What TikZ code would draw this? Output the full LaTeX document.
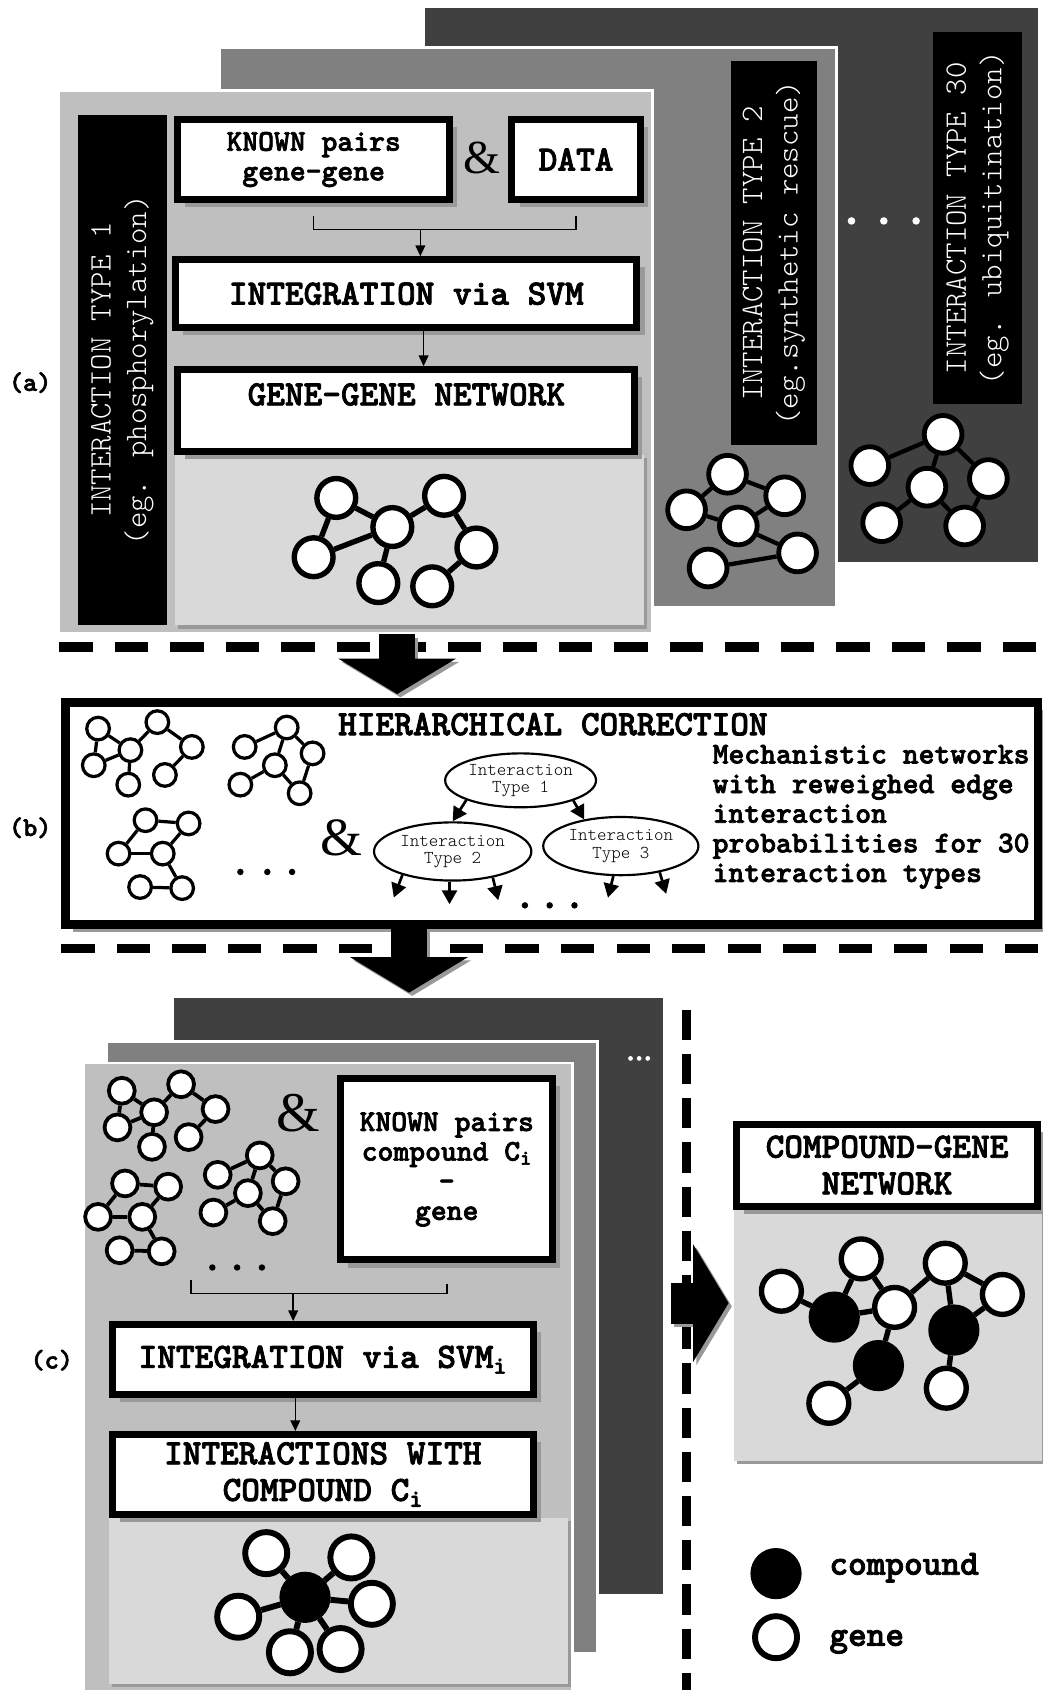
\documentclass[tikz,border=0pt]{standalone}
\usepackage{fontspec}
\newfontfamily\ampfont{Liberation Serif}
\newfontfamily\courbold{lmmonolt10-bold}[Extension=.otf,FakeBold=2.2]
\newfontfamily\courlight{lmmonolt10-regular}[Extension=.otf]
\usetikzlibrary{arrows.meta,positioning,shapes.geometric,shadows}
\definecolor{laydark}{HTML}{404040}
\definecolor{laymid}{HTML}{808080}
\definecolor{laylight}{HTML}{BFBFBF}
\definecolor{panelgray}{HTML}{D9D9D9}
\definecolor{shadegray}{HTML}{999999}
\newcommand{\fBig}{\courbold\fontsize{33}{34}\selectfont}
\newcommand{\fMed}{\courbold\fontsize{28}{27.5}\selectfont}
\newcommand{\fLab}{\courlight\fontsize{29}{33}\selectfont}
\newcommand{\fEll}{\courlight\fontsize{16.8}{16}\selectfont}
\newcommand{\fTag}{\courbold\fontsize{25}{26}\selectfont}
\tikzset{
  layer/.style={anchor=north west,inner sep=0pt,draw=white,line width=2.5pt},
  vlab/.style={fill=black,text=white,rotate=90,align=center,inner sep=0pt,font=\fLab},
  box/.style={draw=black,fill=white,line width=6.5pt,inner sep=0pt,align=center,
    drop shadow={shadow xshift=7pt,shadow yshift=-7pt,fill=shadegray,opacity=1}},
  panel/.style={anchor=north west,inner sep=0pt,fill=panelgray,
    drop shadow={shadow xshift=3pt,shadow yshift=-3pt,fill=shadegray,opacity=1}},
  amp/.style={font=\ampfont\fontsize{#1}{#1}\selectfont,inner sep=0pt},
  ell/.style={ellipse,draw,line width=2pt,fill=white,inner sep=0pt,align=center,font=\fEll},
  gene/.style={circle,draw=black,fill=white,inner sep=0pt},
  gA/.style={gene,line width=5pt,minimum size=36pt},
  gB/.style={gene,line width=4.5pt,minimum size=35pt},
  gS/.style={gene,minimum size=21pt},
  gC/.style={gene,minimum size=24pt},
  gL/.style={gene,line width=5.5pt,minimum size=39pt},
  cpd/.style={gL,fill=black,minimum size=42pt},
  brk/.style={line width=1.5pt},
  arr/.style={-{Triangle[length=10pt,width=9pt]},line width=1.5pt},
  tarr/.style={-{Triangle[length=13pt,width=14pt]},line width=2.5pt},
  bigarr/.style={-{Triangle[length=33pt,width=108pt]},line width=33pt},
  seph/.style={line width=9pt,dash pattern=on 31pt off 20.5pt},
  sepv/.style={line width=8pt,dash pattern=on 28pt off 13pt},
}
% small networks, drawn at the origin of a shifted scope
\newcommand{\netP}[2]{%
  \foreach \k/\x/\y in {1/0/0,2/55/-6,3/30/20,4/-4/34,5/87/17,6/28/52,7/62/43}
    \node[#2] (#1\k) at (\x,\y) {};
  \foreach \i/\j in {1/3,1/4,4/3,3/2,2/5,5/7,3/6} \draw (#1\i) -- (#1\j);}
\newcommand{\netQ}[2]{%
  \foreach \k/\x/\y in {1/0/0,2/39/-18,3/63/6,4/28/17,5/-4/35,6/51/43}
    \node[#2] (#1\k) at (\x,\y) {};
  \foreach \i/\j in {1/2,2/4,2/3,3/6,4/6,4/5} \draw (#1\i) -- (#1\j);}
\newcommand{\netS}[2]{%
  \foreach \k/\x/\y in {1/0/0,2/40/3,3/-25/31,4/16/31,5/-5/62,6/34/63}
    \node[#2] (#1\k) at (\x,\y) {};
  \foreach \i/\j in {1/2,1/3,3/4,2/4,4/6,5/6} \draw (#1\i) -- (#1\j);}

\begin{document}
\begin{tikzpicture}[x=1pt,y=-1pt]
  \useasboundingbox (0,0) rectangle (967,1568);
  % (a) one layer per interaction type
  \node[layer,draw=none,fill=laydark,minimum width=569pt,minimum height=514pt] (l30) at (393,6) {};
  \node[layer,fill=laymid,minimum width=572pt,minimum height=519pt] (l2) at (203,43) {};
  \node[layer,fill=laylight,minimum width=551pt,minimum height=503pt] (l1) at (53,83) {};
  \node[vlab,minimum width=473pt,minimum height=83pt] (lab1) at (113.5,343.5) {INTERACTION TYPE 1\\(eg. phosphorylation)};
  \node[vlab,minimum width=356pt,minimum height=80pt] (lab2) at (718,235) {INTERACTION TYPE 2\\(eg.synthetic rescue)};
  \node[vlab,minimum width=345pt,minimum height=82pt] (lab30) at (907,202.5) {INTERACTION TYPE 30\\(eg. ubiquitination)};
  \foreach \x in {790,820,850} \fill[white] (\x,205) circle (3.5pt);
  \foreach \k/\x/\y in {1/675/440,2/728/460,3/637/473,4/685/488,5/740/513,6/657/527}
    \node[gB] (gb\k) at (\x,\y) {};
  \foreach \i/\j in {1/2,1/3,3/4,4/2,4/5,5/6} \draw[line width=4pt] (gb\i) -- (gb\j);
  \foreach \k/\x/\y in {1/875/403,2/807/432,3/860/452,4/917/444,5/818/485,6/895/488}
    \node[gB] (gt\k) at (\x,\y) {};
  \foreach \i/\j in {2/1,1/3,1/4,3/5,3/6,4/6} \draw[line width=4pt] (gt\i) -- (gt\j);
  % type 1 workflow
  \node[box,font=\fMed,minimum width=252pt,minimum height=74pt] (kg) at (291,148) {KNOWN pairs\\gene-gene};
  \node[box,font=\fBig,minimum width=119pt,minimum height=74pt] (data) at (534.5,148) {DATA};
  \node[amp=44] (andA) at (447,147) {\&};
  \node[box,font=\fBig,minimum width=428pt,minimum height=63pt] (svm) at (377,272.5) {INTEGRATION via SVM};
  \coordinate (bja) at (390,213);
  \draw[brk] ([yshift=-12pt]kg.south) |- (bja) -| ([yshift=-12pt]data.south);
  \draw[arr] (bja) -- (bja |- svm.north);
  \node[panel,minimum width=435pt,minimum height=158pt] (ggp) at (162,422) {};
  \node[box,minimum width=424pt,minimum height=76pt] (gg) at (377,381) {};
  \node[font=\fBig] (ggt) at (377,366) {GENE-GENE NETWORK};
  \coordinate (bjb) at (393,0);
  \draw[arr] (svm.south -| bjb) -- (gg.north -| bjb);
  \foreach \k/\x/\y in {1/312/462,2/412/460,3/364/489,4/291/517,5/442/508,6/351/541,7/401/544}
    \node[gA] (ga\k) at (\x,\y) {};
  \foreach \i/\j in {1/3,1/4,4/3,3/2,3/6,2/5,5/7} \draw[line width=5pt] (ga\i) -- (ga\j);
  \draw[seph] (55,600) -- (967,600);
  % (b) hierarchical correction
  \node[box,line width=8pt,minimum width=902pt,minimum height=206pt] (hbox) at (512,755) {};
  \coordinate (ax1) at (368.5,0);
  \draw[bigarr,shadegray,transform canvas={shift={(3pt,-3pt)}}] (l1.south -| ax1) -- ([yshift=4pt]hbox.north -| ax1);
  \draw[bigarr] (l1.south -| ax1) -- ([yshift=4pt]hbox.north -| ax1);
  \node[font=\fBig] (htit) at (513,672) {HIERARCHICAL CORRECTION};
  \node[font=\fMed,align=left,anchor=north west,inner sep=0pt] (hdesc) at (661,691)
    {Mechanistic networks\\with reweighed edge\\interaction\\probabilities for 30\\interaction types};
  \begin{scope}[shift={(91,676)},line width=3pt] \netP{bp}{gS} \end{scope}
  \begin{scope}[shift={(227,693)},line width=3pt] \netQ{bq}{gS} \end{scope}
  \begin{scope}[shift={(135,761)},line width=3pt] \netS{bs}{gS} \end{scope}
  \foreach \x in {223,248,271} \fill (\x,809) circle (3pt);
  \node[amp=50] (andB) at (317,777) {\&};
  \node[ell,minimum width=140pt,minimum height=50pt] (e1) at (483,724) {Interaction\\Type 1};
  \node[ell,minimum width=146pt,minimum height=54pt] (e2) at (420,790) {Interaction\\Type 2};
  \node[ell,minimum width=144pt,minimum height=54pt] (e3) at (576,785) {Interaction\\Type 3};
  \draw[tarr] (e1.-160) -- (e2.north);
  \draw[tarr] (e1.-21) -- (e3.144);
  \foreach \a/\dx in {-155/-8,-96/0,-33/5} \draw[tarr] (e2.\a) -- ++(\dx,21);
  \foreach \a/\dx in {-104/-5,-34/6} \draw[tarr] (e3.\a) -- ++(\dx,20);
  \foreach \x in {487,510,533} \fill (\x,840) circle (3pt);
  \draw[seph] (57,880) -- (967,880);
  % (c) one layer per compound
  \node[layer,draw=none,fill=laydark,minimum width=454pt,minimum height=553pt] (c3) at (160,925) {};
  \node[layer,fill=laymid,minimum width=455pt,minimum height=568pt] (c2) at (98,965) {};
  \node[layer,fill=laylight,minimum width=454pt,minimum height=600pt] (c1) at (76,985) {};
  \coordinate (ax2) at (379.5,0);
  \draw[bigarr,shadegray,transform canvas={shift={(3pt,-3pt)}}] (hbox.south -| ax2) -- ([yshift=4pt]c3.north -| ax2);
  \draw[bigarr] (hbox.south -| ax2) -- ([yshift=4pt]c3.north -| ax2);
  \foreach \x in {585,593,601} \fill[white] (\x,982) circle (2.2pt);
  \begin{scope}[shift={(113,1012)},line width=3.5pt] \netP{cp}{gC} \end{scope}
  \begin{scope}[shift={(202,1090)},line width=3.5pt] \netQ{cq}{gC} \end{scope}
  \begin{scope}[shift={(116,1098)},line width=3.5pt] \netS{cs}{gC} \end{scope}
  \foreach \x in {197,220,243} \fill (\x,1176) circle (3pt);
  \node[amp=52] (andC) at (277,1033) {\&};
  \node[box,font=\fMed,minimum width=197pt,minimum height=168pt] (kc) at (414.5,1085)
    {KNOWN pairs\\compound C\textsubscript{i}\\-\\gene};
  \node[box,font=\fBig,minimum width=391pt,minimum height=65pt] (svmi) at (299.5,1261.5) {INTEGRATION via SVM\textsubscript{i}};
  \coordinate (bjl) at (177,1188);
  \coordinate (bjc) at (272,1200);
  \draw[brk] (bjl) |- (bjc) -| ([yshift=-19pt]kc.south);
  \draw[arr] (bjc) -- (bjc |- svmi.north);
  \node[panel,minimum width=426pt,minimum height=154pt] (iwp) at (101,1408) {};
  \node[box,font=\fBig,minimum width=391pt,minimum height=74pt] (iw) at (299.5,1368) {INTERACTIONS WITH\\COMPOUND C\textsubscript{i}};
  \coordinate (bjd) at (274,0);
  \draw[arr] (svmi.south -| bjd) -- (iw.north -| bjd);
  \node[cpd] (st0) at (283,1482) {};
  \foreach \k/\x/\y in {1/247/1441,2/326/1445,3/221/1500,4/345/1488,5/269/1533,6/316/1530} {
    \node[gL] (st\k) at (\x,\y) {};
    \draw[line width=5.5pt] (st0) -- (st\k);
  }
  % compound-gene network
  \draw[sepv] (637,937) -- (637,1568);
  \node[panel,minimum width=286pt,minimum height=233pt] (cgp) at (681,1122) {};
  \coordinate (ay3) at (0,1209);
  \draw[bigarr,line width=38pt,shadegray,transform canvas={shift={(3pt,-3pt)}},shorten <=6pt,shorten >=5pt] (c3.east |- ay3) -- (cgp.west |- ay3);
  \draw[bigarr,line width=38pt,shorten <=6pt,shorten >=5pt] (c3.east |- ay3) -- (cgp.west |- ay3);
  \node[box,font=\fBig,minimum width=280pt,minimum height=76pt] (cg) at (823,1081) {COMPOUND-GENE\\NETWORK};
  \foreach \k/\x/\y in {1/725/1198,2/799/1168,3/830/1213,4/877/1172,5/930/1201,6/769/1302,7/878/1288}
    \node[gL,minimum size=37pt,line width=5pt] (cgg\k) at (\x,\y) {};
  \foreach \k/\x/\y in {1/774/1222,2/815/1267,3/885/1234}
    \node[cpd] (cgc\k) at (\x,\y) {};
  \foreach \a/\b in {g1/c1,c1/g2,c1/g3,g2/g3,g3/c2,c2/g6,g3/g4,g4/c3,g4/g5,g5/c3,c3/g7}
    \draw[line width=5pt] (cg\a) -- (cg\b);
  \node[cpd] (lgc) at (720,1460) {};
  \node[font=\fBig,anchor=base west] (lgct) at (766,1461) {compound};
  \node[gL] (lgg) at (720,1519) {};
  \node[font=\fBig,anchor=base west] (lggt) at (766,1527) {gene};
  % panel tags
  \node[font=\fTag] (taga) at (28,355) {(a)};
  \node[font=\fTag] (tagb) at (28,768) {(b)};
  \node[font=\fTag] (tagc) at (48,1262) {(c)};
\end{tikzpicture}
\end{document}
